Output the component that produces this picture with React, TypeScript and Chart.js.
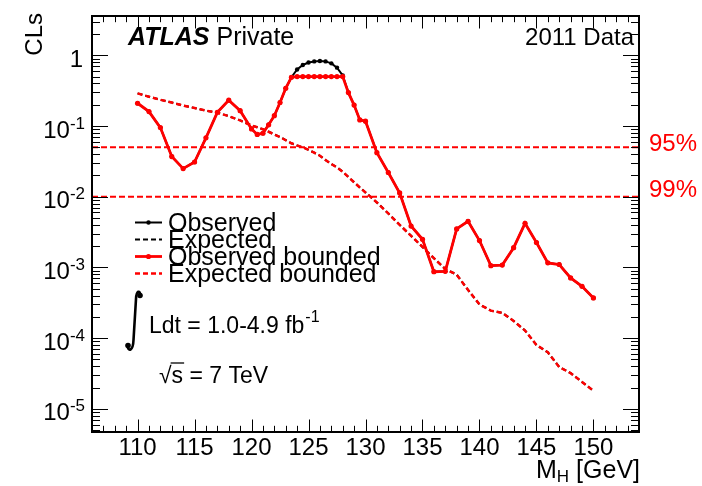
import { useEffect, useRef } from "react";
import { Chart, registerables } from "chart.js";

Chart.register(...registerables);

// Higgs mass hypotheses (GeV)
const massPoints = [
  110, 111, 112, 113, 114, 115, 116, 117, 118, 119, 120,
  120.5, 121, 121.5, 122, 122.5, 123, 123.5, 124, 124.5, 125,
  125.5, 126, 126.5, 127, 127.5, 128, 128.5, 129, 129.5, 130,
  131, 132, 133, 134, 135, 136, 137, 138, 139, 140,
  141, 142, 143, 144, 145, 146, 147, 148, 149, 150,
];

// Observed CLs
const observedCLs = [
  0.21, 0.16, 0.095, 0.037, 0.025, 0.031, 0.068, 0.156, 0.232, 0.165, 0.091,
  0.076, 0.079, 0.104, 0.14, 0.215, 0.342, 0.49, 0.63, 0.73, 0.79,
  0.82, 0.83, 0.82, 0.77, 0.67, 0.52, 0.297, 0.198, 0.122, 0.117,
  0.042, 0.022, 0.0113, 0.00385, 0.0025, 0.00087, 0.00088, 0.0035, 0.0045, 0.0024,
  0.00106, 0.00108, 0.0019, 0.0042, 0.00225, 0.00116, 0.0011, 0.00071, 0.00054, 0.00037,
];

// Observed CLs, bounded at 0.5
const observedBoundedCLs = [
  0.21, 0.16, 0.095, 0.037, 0.025, 0.031, 0.068, 0.156, 0.232, 0.165, 0.091,
  0.076, 0.079, 0.104, 0.14, 0.215, 0.342, 0.49, 0.5, 0.5, 0.5,
  0.5, 0.5, 0.5, 0.5, 0.5, 0.5, 0.297, 0.198, 0.122, 0.117,
  0.042, 0.022, 0.0113, 0.00385, 0.0025, 0.00087, 0.00088, 0.0035, 0.0045, 0.0024,
  0.00106, 0.00108, 0.0019, 0.0042, 0.00225, 0.00116, 0.0011, 0.00071, 0.00054, 0.00037,
];

// Expected CLs
const expectedCLs = [
  0.29, 0.26, 0.235, 0.215, 0.195, 0.18, 0.165, 0.155, 0.138, 0.12, 0.102,
  0.096, 0.09, 0.083, 0.076, 0.07, 0.063, 0.057, 0.053, 0.05, 0.046,
  0.042, 0.038, 0.033, 0.029, 0.026, 0.0226, 0.019, 0.016, 0.0135, 0.0115,
  0.0083, 0.0058, 0.004, 0.0028, 0.00195, 0.00135, 0.00095, 0.00079, 0.00048, 0.0003,
  0.000245, 0.000228, 0.000175, 0.000128, 0.00008, 0.000063, 0.000039, 0.000032, 0.000024, 0.000018,
];

// Expected CLs, bounded
const expectedBoundedCLs = [
  0.29, 0.26, 0.235, 0.215, 0.195, 0.18, 0.165, 0.155, 0.138, 0.12, 0.102,
  0.096, 0.09, 0.083, 0.076, 0.07, 0.063, 0.057, 0.053, 0.05, 0.046,
  0.042, 0.038, 0.033, 0.029, 0.026, 0.0226, 0.019, 0.016, 0.0135, 0.0115,
  0.0083, 0.0058, 0.004, 0.0028, 0.00195, 0.00135, 0.00095, 0.00079, 0.00048, 0.0003,
  0.000245, 0.000228, 0.000175, 0.000128, 0.00008, 0.000063, 0.000039, 0.000032, 0.000024, 0.000018,
];

// Exclusion thresholds
const exclusionLevels = [0.05, 0.01];
const exclusionLabels = ["95%", "99%"];

// Axis ranges and labels
const massRange = [106, 154];
const clsRange = [4.7e-6, 3.6];
const massTickLabels = [110, 115, 120, 125, 130, 135, 140, 145, 150];
const clsDecadeExponents = [0, -1, -2, -3, -4, -5];

const FONT = '"Liberation Sans", Arial, Helvetica, sans-serif';
const RED = "#ff0000";

const toPoints = (ys: number[]) => massPoints.map((m, i) => ({ x: m, y: ys[i] }));

const rootFramePlugin = {
  id: "rootFrame",
  afterDraw(chart: any) {
    const { ctx, chartArea: a, scales } = chart;
    const xs = scales.x;
    const ys = scales.y;
    ctx.save();

    const seg = (x1: number, y1: number, x2: number, y2: number) => {
      ctx.beginPath();
      ctx.moveTo(x1, y1);
      ctx.lineTo(x2, y2);
      ctx.stroke();
    };

    // tick marks, drawn inwards on all four sides
    ctx.strokeStyle = "#000";
    ctx.lineWidth = 1;
    ctx.setLineDash([]);
    for (let m = massRange[0] + 1; m < massRange[1]; m++) {
      const px = Math.round(xs.getPixelForValue(m)) + 0.5;
      const len = m % 5 === 0 ? 12.5 : 6.2;
      seg(px, a.bottom, px, a.bottom - len);
      seg(px, a.top, px, a.top + len);
    }
    for (let k = -6; k <= 0; k++) {
      for (let j = 1; j <= 9; j++) {
        const v = j * Math.pow(10, k);
        if (v < clsRange[0] || v > clsRange[1]) continue;
        const py = Math.round(ys.getPixelForValue(v)) + 0.5;
        const len = j === 1 ? 16 : 8;
        seg(a.left, py, a.left + len, py);
        seg(a.right, py, a.right - len, py);
      }
    }

    // frame
    ctx.lineWidth = 2;
    ctx.strokeRect(a.left, a.top, a.right - a.left, a.bottom - a.top);

    // x tick labels
    ctx.fillStyle = "#000";
    ctx.font = `24px ${FONT}`;
    ctx.textAlign = "center";
    ctx.textBaseline = "alphabetic";
    massTickLabels.forEach((m) => {
      ctx.fillText(String(m), xs.getPixelForValue(m), a.bottom + 23);
    });

    // y tick labels (powers of ten)
    const labelRight = a.left - 7;
    clsDecadeExponents.forEach((e) => {
      const py = ys.getPixelForValue(Math.pow(10, e));
      const base = py + 11.5;
      if (e === 0) {
        ctx.font = `24px ${FONT}`;
        ctx.textAlign = "right";
        ctx.fillText("1", labelRight - 2, base);
        return;
      }
      ctx.font = `17px ${FONT}`;
      const sup = String(e);
      const supW = ctx.measureText(sup).width;
      ctx.textAlign = "left";
      ctx.fillText(sup, labelRight - supW, base - 9);
      ctx.font = `24px ${FONT}`;
      ctx.textAlign = "right";
      ctx.fillText("10", labelRight - supW, base);
    });

    // axis titles
    ctx.font = `25px ${FONT}`;
    ctx.textAlign = "right";
    ctx.fillText("[GeV]", a.right + 1, a.bottom + 46);
    const gevW = ctx.measureText(" [GeV]").width;
    ctx.font = `17px ${FONT}`;
    const hW = ctx.measureText("H").width;
    ctx.fillText("H", a.right + 1 - gevW, a.bottom + 50);
    ctx.font = `25px ${FONT}`;
    ctx.fillText("M", a.right + 1 - gevW - hW, a.bottom + 46);

    ctx.save();
    ctx.font = `24px ${FONT}`;
    ctx.translate(42, a.top - 3);
    ctx.rotate(-Math.PI / 2);
    ctx.textAlign = "right";
    ctx.fillText("CLs", 0, 0);
    ctx.restore();

    // exclusion threshold labels
    ctx.fillStyle = RED;
    ctx.font = `24px ${FONT}`;
    ctx.textAlign = "left";
    const labelShift = [4, 0];
    exclusionLevels.forEach((lvl, i) => {
      ctx.fillText(exclusionLabels[i], a.right + 10, ys.getPixelForValue(lvl) + labelShift[i]);
    });

    // ATLAS label and data tag
    ctx.fillStyle = "#000";
    ctx.textAlign = "left";
    ctx.font = `italic bold 25px ${FONT}`;
    ctx.fillText("ATLAS", 128, 45);
    const atlasW = ctx.measureText("ATLAS").width;
    ctx.font = `25px ${FONT}`;
    ctx.fillText("Private", 128 + atlasW + 7, 45);
    ctx.textAlign = "right";
    ctx.font = `24px ${FONT}`;
    ctx.fillText("2011 Data", 634, 45);

    // legend
    const legendRows = [222.5, 239.5, 256.5, 273.5];
    const legendSets = chart.data.datasets.filter((d: any) => d.inLegend);
    ctx.textAlign = "left";
    legendSets.forEach((d: any, i: number) => {
      const y = legendRows[i];
      ctx.strokeStyle = d.borderColor;
      ctx.lineWidth = d.borderWidth;
      ctx.setLineDash(d.borderDash || []);
      seg(135, y, 162, y);
      ctx.setLineDash([]);
      if (d.pointRadius > 0) {
        ctx.fillStyle = d.borderColor;
        ctx.beginPath();
        ctx.arc(148.5, y, d.pointRadius, 0, Math.PI * 2);
        ctx.fill();
      }
      ctx.fillStyle = "#000";
      ctx.font = `25px ${FONT}`;
      ctx.fillText(d.label, 168, y + 8.5);
    });

    // luminosity: integral sign
    ctx.strokeStyle = "#000";
    ctx.fillStyle = "#000";
    ctx.lineWidth = 2.6;
    ctx.beginPath();
    ctx.moveTo(140.5, 295.5);
    ctx.bezierCurveTo(140, 290, 136.5, 290, 136, 299);
    ctx.lineTo(133.5, 340);
    ctx.bezierCurveTo(133, 351, 128.5, 352, 127.5, 346);
    ctx.stroke();
    ctx.beginPath();
    ctx.arc(140, 295.5, 2.8, 0, Math.PI * 2);
    ctx.fill();
    ctx.beginPath();
    ctx.arc(128, 345.5, 2.8, 0, Math.PI * 2);
    ctx.fill();

    ctx.font = `23px ${FONT}`;
    ctx.textAlign = "left";
    const lumiText = "Ldt = 1.0-4.9 fb";
    ctx.fillText(lumiText, 149, 333);
    const lumiW = ctx.measureText(lumiText).width;
    ctx.font = `16px ${FONT}`;
    ctx.fillText("-1", 149 + lumiW + 1, 322);

    // centre-of-mass energy
    ctx.font = `23px ${FONT}`;
    ctx.fillText("\u221A", 159, 383);
    const rootW = ctx.measureText("\u221A").width;
    ctx.fillText("s = 7 TeV", 159 + rootW, 383);
    const sW = ctx.measureText("s").width;
    ctx.lineWidth = 1.3;
    seg(159 + rootW - 1, 363, 159 + rootW + sW + 1, 363);

    ctx.restore();
  },
};

export default function App() {
  const canvasRef = useRef<HTMLCanvasElement | null>(null);

  useEffect(() => {
    const canvas = canvasRef.current;
    if (!canvas) return;

    const thresholdSets = exclusionLevels.map((lvl) => ({
      label: `CLs = ${lvl}`,
      data: [
        { x: massRange[0], y: lvl },
        { x: massRange[1], y: lvl },
      ],
      borderColor: RED,
      borderWidth: 2,
      borderDash: [6, 3],
      pointRadius: 0,
      showLine: true,
      order: 2,
      inLegend: false,
    }));

    const chart = new Chart(canvas, {
      type: "scatter",
      data: {
        datasets: [
          {
            label: "Observed",
            data: toPoints(observedCLs),
            borderColor: "#000000",
            backgroundColor: "#000000",
            borderWidth: 2,
            pointRadius: 2.2,
            pointBorderWidth: 0,
            showLine: true,
            order: 3,
            inLegend: true,
          },
          {
            label: "Expected",
            data: toPoints(expectedCLs),
            borderColor: "#000000",
            backgroundColor: "#000000",
            borderWidth: 2,
            borderDash: [5, 3],
            pointRadius: 0,
            showLine: true,
            order: 4,
            inLegend: true,
          },
          {
            label: "Observed bounded",
            data: toPoints(observedBoundedCLs),
            borderColor: RED,
            backgroundColor: RED,
            borderWidth: 2.8,
            pointRadius: 2.6,
            pointBorderWidth: 0,
            showLine: true,
            order: 0,
            inLegend: true,
          },
          {
            label: "Expected bounded",
            data: toPoints(expectedBoundedCLs),
            borderColor: RED,
            backgroundColor: RED,
            borderWidth: 2.5,
            borderDash: [5, 3],
            pointRadius: 0,
            showLine: true,
            order: 1,
            inLegend: true,
          },
          ...thresholdSets,
        ] as any,
      },
      options: {
        animation: false,
        responsive: false,
        layout: { padding: { left: 92, top: 16, right: 63, bottom: 54 } },
        plugins: { legend: { display: false }, tooltip: { enabled: false } },
        scales: {
          x: { type: "linear", min: massRange[0], max: massRange[1], display: false },
          y: { type: "logarithmic", min: clsRange[0], max: clsRange[1], display: false },
        },
      },
      plugins: [rootFramePlugin],
    });

    return () => chart.destroy();
  }, []);

  return (
    <div style={{ position: "fixed", left: 0, top: 0, width: 702, height: 486, background: "#fff" }}>
      <canvas ref={canvasRef} width={702} height={486} style={{ display: "block" }} />
    </div>
  );
}
